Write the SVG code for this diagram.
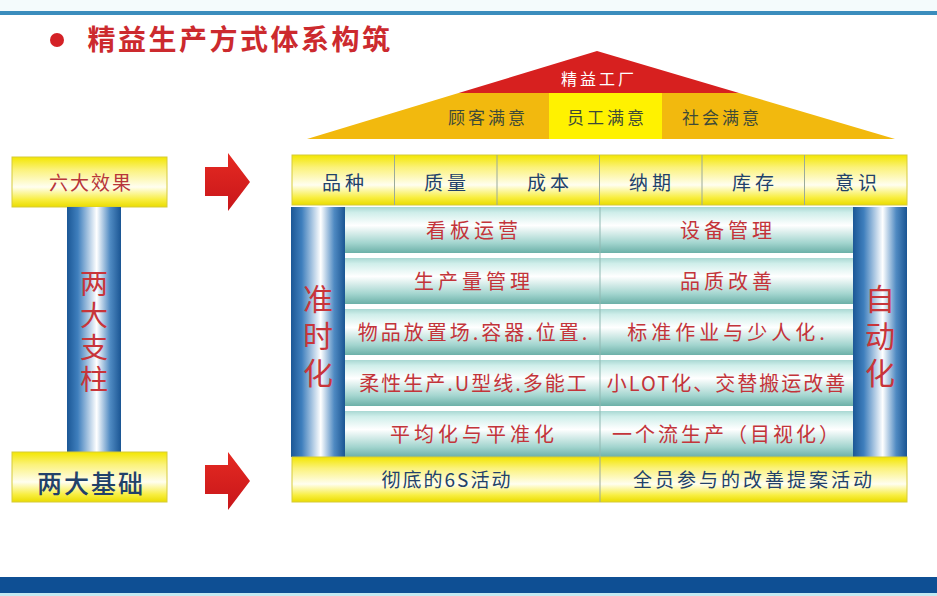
<svg xmlns="http://www.w3.org/2000/svg" width="937" height="596" viewBox="0 0 937 596">
<defs>
<linearGradient id="gYellow" x1="0" y1="0" x2="0" y2="1">
<stop offset="0" stop-color="#f3e600"/>
<stop offset="0.25" stop-color="#fbf27a"/>
<stop offset="0.6" stop-color="#fffef0"/>
<stop offset="0.85" stop-color="#f8ee40"/>
<stop offset="1" stop-color="#eadc00"/>
</linearGradient>
<linearGradient id="gPillar" x1="0" y1="0" x2="1" y2="0">
<stop offset="0" stop-color="#1b5796"/>
<stop offset="0.2" stop-color="#3f7fbd"/>
<stop offset="0.55" stop-color="#ffffff"/>
<stop offset="0.8" stop-color="#4f8ac2"/>
<stop offset="1" stop-color="#1a5593"/>
</linearGradient>
<linearGradient id="gTeal" x1="0" y1="0" x2="0" y2="1">
<stop offset="0" stop-color="#a9d8d3"/>
<stop offset="0.12" stop-color="#cfeeea"/>
<stop offset="0.4" stop-color="#ffffff"/>
<stop offset="0.78" stop-color="#a3d5cf"/>
<stop offset="1" stop-color="#6cb0a8"/>
</linearGradient>
<linearGradient id="gArrow" x1="0" y1="0" x2="0" y2="1">
<stop offset="0" stop-color="#e52a22"/>
<stop offset="1" stop-color="#c8161a"/>
</linearGradient>
<style>
text{font-family:"Noto Sans CJK SC","Noto Sans",sans-serif;text-anchor:middle}
.ybox{fill:url(#gYellow);stroke:#d6cb3a;stroke-width:1}
.pillar{fill:url(#gPillar)}
.teal{fill:url(#gTeal)}
.div{stroke:#9aaa9a;stroke-width:1}
.blue{fill:#22416a;font-size:19px;letter-spacing:4px}
.red{fill:#c3343a;font-size:20px;letter-spacing:4px}
.vred{fill:#c8353a;font-size:30px;writing-mode:vertical-rl;letter-spacing:7px}
.roof{font-size:17px;letter-spacing:3px;fill:#3e4a38}
.arrow{fill:url(#gArrow)}
</style>
</defs>
<rect width="937" height="596" fill="#ffffff"/>
<rect x="0" y="0" width="937" height="11" fill="#f4fbfc"/>
<rect x="0" y="11" width="937" height="4" fill="#3b8dbd"/>
<rect x="0" y="577" width="937" height="16" fill="#0e4f94"/>
<rect x="0" y="593" width="937" height="3" fill="#c3eaf2"/>

<g id="title">
<circle cx="57" cy="40" r="7" fill="#d42126"/>
<text x="240" y="50" style="font-size:28px;font-weight:bold;fill:#cc2a2e;letter-spacing:2.5px">精益生产方式体系构筑</text>
</g>

<g id="roof">
<polygon points="458.6,93 739,93 895,139 307,139" fill="#f2b90e"/>
<rect x="549" y="93" width="113" height="46" fill="#fff200"/>
<polygon points="597,51 458.6,93 739,93" fill="#d7201f"/>
<text x="599" y="85" style="font-size:16px;letter-spacing:3px;fill:#ffffff">精益工厂</text>
<text x="488" y="124" class="roof">顾客满意</text>
<text x="607" y="124" class="roof">员工满意</text>
<text x="722" y="124" class="roof">社会满意</text>
</g>

<g id="effects-row">
<rect x="292" y="155" width="615" height="50" class="ybox"/>
<line x1="394.5" y1="155" x2="394.5" y2="205" class="div"/>
<line x1="497" y1="155" x2="497" y2="205" class="div"/>
<line x1="599.5" y1="155" x2="599.5" y2="205" class="div"/>
<line x1="702" y1="155" x2="702" y2="205" class="div"/>
<line x1="804.5" y1="155" x2="804.5" y2="205" class="div"/>
<text x="345" y="190" class="blue">品种</text>
<text x="447" y="190" class="blue">质量</text>
<text x="550" y="190" class="blue">成本</text>
<text x="652" y="190" class="blue">纳期</text>
<text x="755" y="190" class="blue">库存</text>
<text x="858" y="190" class="blue">意识</text>
</g>

<g id="pillar-jit">
<rect x="291" y="207" width="54" height="250" class="pillar"/>
<text x="318" y="339" class="vred">准时化</text>
</g>

<g id="pillar-jidoka">
<rect x="853" y="207" width="54" height="250" class="pillar"/>
<text x="880" y="339" class="vred">自动化</text>
</g>

<g id="rows">
<rect x="345" y="207" width="508" height="46" class="teal"/>
<rect x="345" y="258" width="508" height="46" class="teal"/>
<rect x="345" y="309" width="508" height="46" class="teal"/>
<rect x="345" y="360" width="508" height="46" class="teal"/>
<rect x="345" y="411" width="508" height="46" class="teal"/>
<line x1="600" y1="207" x2="600" y2="457" stroke="#8fb8b2" stroke-width="1"/>
<text x="474" y="238" class="red">看板运营</text>
<text x="728" y="238" class="red">设备管理</text>
<text x="474" y="289" class="red">生产量管理</text>
<text x="728" y="289" class="red">品质改善</text>
<text x="474" y="340" class="red" style="letter-spacing:3px">物品放置场.容器.位置.</text>
<text x="728" y="340" class="red">标准作业与少人化.</text>
<text x="474" y="391" class="red" style="letter-spacing:2px">柔性生产.U型线.多能工</text>
<text x="727" y="391" class="red" style="letter-spacing:2px">小LOT化、交替搬运改善</text>
<text x="474" y="442" class="red">平均化与平准化</text>
<text x="727" y="442" class="red" style="letter-spacing:3px">一个流生产（目视化）</text>
</g>

<g id="foundation">
<rect x="292" y="457" width="615" height="45" class="ybox"/>
<line x1="600" y1="457" x2="600" y2="502" class="div"/>
<text x="447" y="487" class="blue" style="letter-spacing:2px">彻底的6S活动</text>
<text x="754" y="487" class="blue" style="letter-spacing:3px">全员参与的改善提案活动</text>
</g>

<g id="six-effects">
<rect x="12" y="157" width="155" height="50" class="ybox"/>
<text x="91" y="190" style="font-size:19px;letter-spacing:2px;fill:#b8363a">六大效果</text>
</g>

<g id="two-pillars">
<rect x="67" y="207" width="54" height="245" class="pillar"/>
<text x="94" y="333" style="font-size:28px;fill:#c8353a;writing-mode:vertical-rl;letter-spacing:4px">两大支柱</text>
</g>

<g id="two-foundations">
<rect x="12" y="452" width="155" height="50" class="ybox"/>
<text x="91" y="493" style="font-size:25px;letter-spacing:2px;fill:#22416a;font-weight:500">两大基础</text>
</g>

<g id="connectors">
<polygon points="205,167 228,167 228,153 250,182 228,211 228,196 205,196" class="arrow"/>
<polygon points="205,465 228,465 228,452 250,481 228,510 228,494 205,494" class="arrow"/>
</g>
</svg>
